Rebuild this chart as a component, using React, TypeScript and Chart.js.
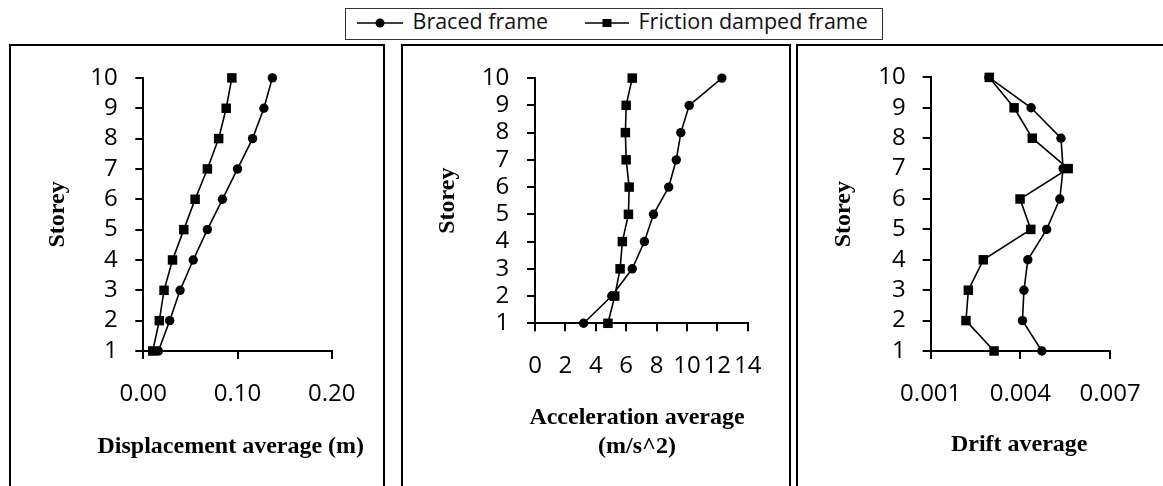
import React, { useEffect, useRef } from "react";
import { Chart, registerables } from "chart.js";

Chart.register(...registerables);

// ---------------- data ----------------
const storeys = [1, 2, 3, 4, 5, 6, 7, 8, 9, 10];
const seriesNames = ["Braced frame", "Friction damped frame"];

const dispBraced = [0.016, 0.028, 0.039, 0.053, 0.068, 0.084, 0.1, 0.116, 0.128, 0.137];
const dispFriction = [0.01, 0.017, 0.022, 0.031, 0.043, 0.055, 0.068, 0.08, 0.088, 0.094];

const accBraced = [3.2, 5.05, 6.4, 7.2, 7.8, 8.8, 9.3, 9.6, 10.15, 12.3];
const accFriction = [4.8, 5.25, 5.6, 5.75, 6.15, 6.2, 6.0, 5.95, 6.0, 6.4];

const driftBraced = [0.00472, 0.00407, 0.00412, 0.00425, 0.00488, 0.00532, 0.00543, 0.00536, 0.00436, 0.00295];
const driftFriction = [0.00312, 0.00218, 0.00226, 0.00276, 0.00435, 0.00399, 0.0056, 0.0044, 0.00379, 0.00296];

const dispTicks = { min: 0, max: 0.2, step: 0.1, decimals: 2 };
const accTicks = { min: 0, max: 14, step: 2, decimals: 0 };
const driftTicks = { min: 0.001, max: 0.007, step: 0.003, decimals: 3 };
const storeyTicks = { min: 1, max: 10, step: 1 };

const yTitle = "Storey";
const dispTitle = ["Displacement average (m)"];
const accTitle = ["Acceleration average", "(m/s^2)"];
const driftTitle = ["Drift average"];

// ---------------- styling ----------------
const TICK_FONT = { family: "'Open Sans'", size: 24 };
const TITLE_FONT = { family: "'Liberation Serif'", size: 24, weight: "bold" as const, lineHeight: 1.22 };
const TITLE_CSS = "bold 24px 'Liberation Serif'";
const CANVAS_H = 440;

type PanelCfg = {
  left: number;
  outerWidth: number;
  canvasWidth: number;
  plotLeft: number;
  plotTop: number;
  plotBottom: number;
  padRight: number;
  yTickPad: number;
  yTitlePad: number;
  xTickPad: number;
  xTitleCx: number;
  xTitleCy: number;
  xTitle: string[];
  ticks: { min: number; max: number; step: number; decimals: number };
  braced: number[];
  friction: number[];
};

// draws the (un-squeezed) x-axis title below the axis
const xTitlePlugin = {
  id: "xTitleText",
  afterDraw(chart: any, _args: any, opts: any) {
    const ctx = chart.ctx as CanvasRenderingContext2D;
    ctx.save();
    ctx.font = TITLE_CSS;
    ctx.fillStyle = "#000";
    ctx.textAlign = "center";
    ctx.textBaseline = "middle";
    (opts.lines as string[]).forEach((l, i) => {
      ctx.fillText(l, opts.cx, opts.cy + i * opts.lh);
    });
    ctx.restore();
  },
};

function makeDatasets(braced: number[], friction: number[]) {
  return [
    {
      label: seriesNames[0],
      data: braced.map((x, i) => ({ x, y: storeys[i] })),
      showLine: true,
      borderColor: "#000",
      backgroundColor: "#000",
      borderWidth: 1.6,
      pointStyle: "circle",
      pointRadius: 4.7,
      pointBorderWidth: 0,
      clip: false as const,
    },
    {
      label: seriesNames[1],
      data: friction.map((x, i) => ({ x, y: storeys[i] })),
      showLine: true,
      borderColor: "#000",
      backgroundColor: "#000",
      borderWidth: 1.6,
      pointStyle: "rect",
      pointRadius: 6.7,
      pointBorderWidth: 0,
      clip: false as const,
    },
  ];
}

function Panel({ cfg }: { cfg: PanelCfg }) {
  const ref = useRef<HTMLCanvasElement | null>(null);
  useEffect(() => {
    if (!ref.current) return;
    const c = cfg;
    const chart = new Chart(ref.current, {
      type: "scatter",
      data: { datasets: makeDatasets(c.braced, c.friction) as any },
      plugins: [xTitlePlugin],
      options: {
        responsive: false,
        animation: false,
        devicePixelRatio: 1,
        layout: { padding: { top: c.plotTop, right: c.padRight, left: 0, bottom: 0 } },
        plugins: {
          legend: { display: false },
          tooltip: { enabled: false },
          xTitleText: { lines: c.xTitle, cx: c.xTitleCx, cy: c.xTitleCy, lh: 29.3 },
        },
        scales: {
          x: {
            type: "linear",
            position: "bottom",
            min: c.ticks.min,
            max: c.ticks.max,
            afterFit: (s: any) => {
              s.height = CANVAS_H - c.plotBottom;
            },
            ticks: {
              stepSize: c.ticks.step,
              autoSkip: false,
              maxRotation: 0,
              minRotation: 0,
              padding: c.xTickPad,
              color: "#000",
              font: TICK_FONT,
              callback: (v: any) => Number(v).toFixed(c.ticks.decimals),
            },
            grid: {
              display: true,
              drawOnChartArea: false,
              drawTicks: true,
              tickLength: 8,
              color: "#000",
              lineWidth: 2,
            },
            border: { display: true, color: "#000", width: 2 },
            title: { display: false },
          },
          y: {
            type: "linear",
            position: "left",
            min: storeyTicks.min,
            max: storeyTicks.max,
            afterFit: (s: any) => {
              s.width = c.plotLeft;
            },
            ticks: {
              stepSize: storeyTicks.step,
              autoSkip: false,
              padding: c.yTickPad,
              color: "#000",
              font: TICK_FONT,
            },
            grid: {
              display: true,
              drawOnChartArea: false,
              drawTicks: true,
              tickLength: 8,
              color: "#000",
              lineWidth: 2,
            },
            border: { display: true, color: "#000", width: 2 },
            title: {
              display: true,
              text: yTitle,
              color: "#000",
              font: TITLE_FONT,
              padding: { top: c.yTitlePad, bottom: 0 },
            },
          },
        },
      } as any,
    });
    return () => chart.destroy();
  }, [cfg]);

  return (
    <div
      style={{
        position: "absolute",
        left: cfg.left,
        top: 44,
        width: cfg.outerWidth,
        height: 520,
        border: "2px solid #000",
        boxSizing: "border-box",
        background: "#fff",
        overflow: "hidden",
      }}
    >
      <canvas
        ref={ref}
        width={cfg.canvasWidth}
        height={CANVAS_H}
        style={{ display: "block", width: cfg.canvasWidth, height: CANVAS_H }}
      />
    </div>
  );
}

const panels: PanelCfg[] = [
  {
    left: 9,
    outerWidth: 376,
    canvasWidth: 372,
    plotLeft: 132.3,
    plotTop: 27.7,
    plotBottom: 305,
    padRight: 51.3,
    yTickPad: 17.5,
    yTitlePad: 32.2,
    xTickPad: 20.4,
    xTitleCx: 219.8,
    xTitleCy: 400.7,
    xTitle: dispTitle,
    ticks: dispTicks,
    braced: dispBraced,
    friction: dispFriction,
  },
  {
    left: 401,
    outerWidth: 390,
    canvasWidth: 386,
    plotLeft: 132,
    plotTop: 29.3,
    plotBottom: 277.3,
    padRight: 41.3,
    yTickPad: 17.7,
    yTitlePad: 30.2,
    xTickPad: 20.1,
    xTitleCx: 234,
    xTitleCy: 371.5,
    xTitle: accTitle,
    ticks: accTicks,
    braced: accBraced,
    friction: accFriction,
  },
  {
    left: 796,
    outerWidth: 420,
    canvasWidth: 365,
    plotLeft: 132.7,
    plotTop: 29.7,
    plotBottom: 305,
    padRight: 53,
    yTickPad: 17,
    yTitlePad: 31.2,
    xTickPad: 20.6,
    xTitleCx: 221.2,
    xTitleCy: 399,
    xTitle: driftTitle,
    ticks: driftTicks,
    braced: driftBraced,
    friction: driftFriction,
  },
];

function Legend() {
  const textStyle: React.CSSProperties = {
    position: "absolute",
    top: 10,
    fontFamily: "'Open Sans'",
    fontSize: 21.5,
    lineHeight: "22px",
    color: "#111",
    whiteSpace: "nowrap",
  };
  return (
    <>
      <div
        style={{
          position: "absolute",
          left: 345,
          top: 8,
          width: 538,
          height: 32,
          border: "1px solid #333",
          boxSizing: "border-box",
          background: "#fff",
        }}
      />
      <svg style={{ position: "absolute", left: 357, top: 14 }} width={46} height={18}>
        <line x1={0} y1={9} x2={46} y2={9} stroke="#000" strokeWidth={1.5} />
        <circle cx={23} cy={9} r={4.5} fill="#000" />
      </svg>
      <div style={{ ...textStyle, left: 412.5 }}>{seriesNames[0]}</div>
      <svg style={{ position: "absolute", left: 585, top: 14 }} width={44} height={18}>
        <line x1={0} y1={9} x2={44} y2={9} stroke="#000" strokeWidth={1.5} />
        <rect x={17.5} y={5} width={9} height={8} fill="#000" />
      </svg>
      <div style={{ ...textStyle, left: 638.5 }}>{seriesNames[1]}</div>
    </>
  );
}

export default function App() {
  return (
    <div
      style={{
        position: "absolute",
        left: 0,
        top: 0,
        width: 1163,
        height: 486,
        overflow: "hidden",
        background: "#fff",
      }}
    >
      {panels.map((p, i) => (
        <Panel key={i} cfg={p} />
      ))}
      <Legend />
    </div>
  );
}
